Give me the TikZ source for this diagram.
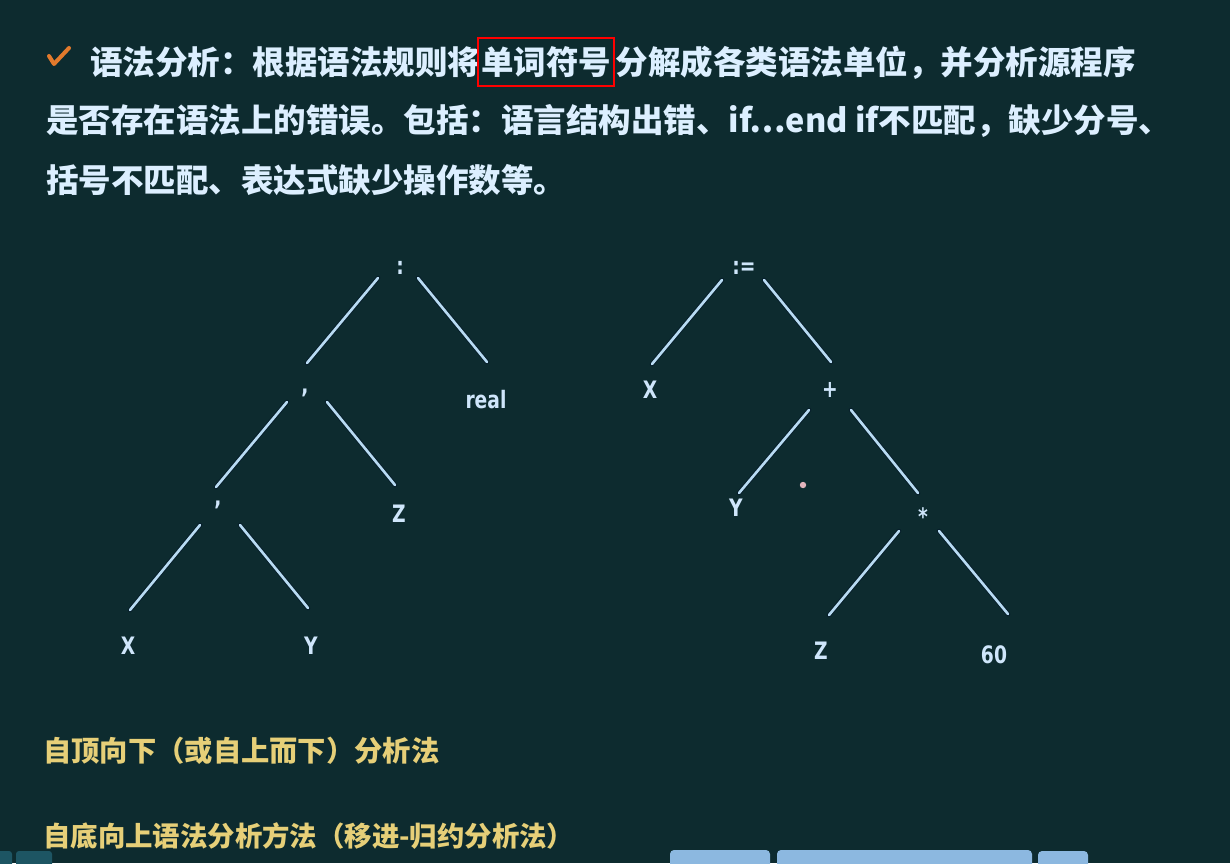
\documentclass[tikz,border=0pt]{standalone}
\usepackage{fontspec}
\newfontfamily\cjk{Noto Sans CJK SC}
\newfontfamily\treefont{DejaVu Sans}[FakeStretch=0.78]
\definecolor{bg}{HTML}{0D2B2F}
\definecolor{txt}{HTML}{DCEFFF}
\definecolor{yel}{HTML}{E6CF78}
\definecolor{edgecore}{HTML}{B8DBF3}
\definecolor{edgedark}{HTML}{08202C}
\definecolor{lbl}{HTML}{CFE6FB}
\definecolor{chk}{HTML}{E27A2C}
\definecolor{btn}{HTML}{8CB8E0}
\definecolor{btndark}{HTML}{1D5563}
\definecolor{pinkdot}{HTML}{E2B4BC}
\begin{document}
\begin{tikzpicture}[x=1pt,y=-1pt,
  maintext/.style={font=\cjk\bfseries\fontsize{32.5}{32.5}\selectfont, text=txt, inner sep=0pt, anchor=west},
  yeltext/.style={font=\cjk\bfseries\fontsize{28.3}{28.3}\selectfont, text=yel, inner sep=0pt, anchor=west},
  lab/.style={font=\treefont\bfseries\fontsize{24}{24}\selectfont, text=lbl, inner sep=0pt},
  edge/.style={draw=edgecore, line width=2.6pt, line cap=round,
    preaction={draw=edgedark, line width=4.6pt, line cap=round}}]
\fill[bg] (0,0) rectangle (1230,863);
\useasboundingbox (0,0) rectangle (1230,863);

% check mark
\draw[chk, line width=4pt, line cap=round, line join=round] (49,56) -- (54,64) -- (69,48);

% heading text
\node[maintext] (l1a) at (90,62) {语法分析：根据语法规则将};
\node[font=\cjk\bfseries\fontsize{32.5}{32.5}\selectfont, text=txt, draw=red, line width=1.3pt,
      inner xsep=3pt, inner ysep=0pt, minimum height=48pt, anchor=base west] (l1b) at ([xshift=-3pt]l1a.base east) {单词符号};
\node[font=\cjk\bfseries\fontsize{32.5}{32.5}\selectfont, text=txt, inner sep=0pt, anchor=base west] (l1c) at ([xshift=1pt]l1b.base east) {分解成各类语法单位，并分析源程序};
\node[maintext] (l2) at (46,121) {是否存在语法上的错误。包括：语言结构出错、if…end if不匹配，缺少分号、};
\node[maintext] (l3) at (46,180) {括号不匹配、表达式缺少操作数等。};

% left tree
\node[lab] (colonL) at (400,268) {:};
\node[lab] (cm1) at (305,393) {,};
\node[lab] (real) at (486,400) {real};
\node[lab] (cm2) at (218,505) {,};
\node[lab] (ZL) at (399,514) {Z};
\node[lab] (XL) at (128,646) {X};
\node[lab] (YL) at (311,646) {Y};

\draw[edge] ([shift={(-22,10)}]colonL.center) -- ([shift={(2,-30)}]cm1.center);
\draw[edge] ([shift={(18,10)}]colonL.center) -- ([shift={(1,-38)}]real.center);
\draw[edge] ([shift={(-18,9)}]cm1.center) -- ([shift={(-2,-18)}]cm2.center);
\draw[edge] ([shift={(22,9)}]cm1.center) -- ([shift={(-4,-29)}]ZL.center);
\draw[edge] ([shift={(-18,20)}]cm2.center) -- ([shift={(2,-36)}]XL.center);
\draw[edge] ([shift={(22,20)}]cm2.center) -- ([shift={(-3,-38)}]YL.center);

% right tree
\node[lab] (assign) at (744,268) {:=};
\node[lab] (XR) at (650,390) {X};
\node[lab] (plus) at (830,390) {+};
\node[lab] (YR) at (736,508) {Y};
\node[lab] (star) at (923,517) {*};
\node[lab] (ZR) at (821,651) {Z};
\node[lab] (sixty) at (994,655) {60};

\draw[edge] ([shift={(-22,12)}]assign.center) -- ([shift={(2,-26)}]XR.center);
\draw[edge] ([shift={(20,12)}]assign.center) -- ([shift={(1,-28)}]plus.center);
\draw[edge] ([shift={(-21,20)}]plus.center) -- ([shift={(3,-15)}]YR.center);
\draw[edge] ([shift={(21,20)}]plus.center) -- ([shift={(-5,-24)}]star.center);
\draw[edge] ([shift={(-24,14)}]star.center) -- ([shift={(8,-36)}]ZR.center);
\draw[edge] ([shift={(16,14)}]star.center) -- ([shift={(14,-41)}]sixty.center);

% pink dot
\fill[pinkdot] (803,485) circle (3.2);

% bottom yellow text
\node[yeltext] (y1) at (43,751) {自顶向下（或自上而下）分析法};
\node[yeltext, font=\cjk\bfseries\fontsize{27.4}{27.4}\selectfont] (y2) at (43,836) {自底向上语法分析方法（移进-归约分析法）};

% bottom UI fragments
\fill[btndark, rounded corners=3] (-4,851) rectangle (12,870);
\fill[btndark, rounded corners=3] (16,851) rectangle (52,870);
\fill[btn, rounded corners=4] (670,850) rectangle (770,872);
\fill[btn, rounded corners=4] (777,850) rectangle (1032,872);
\fill[btn, rounded corners=4] (1038,851) rectangle (1088,872);
\end{tikzpicture}
\end{document}
